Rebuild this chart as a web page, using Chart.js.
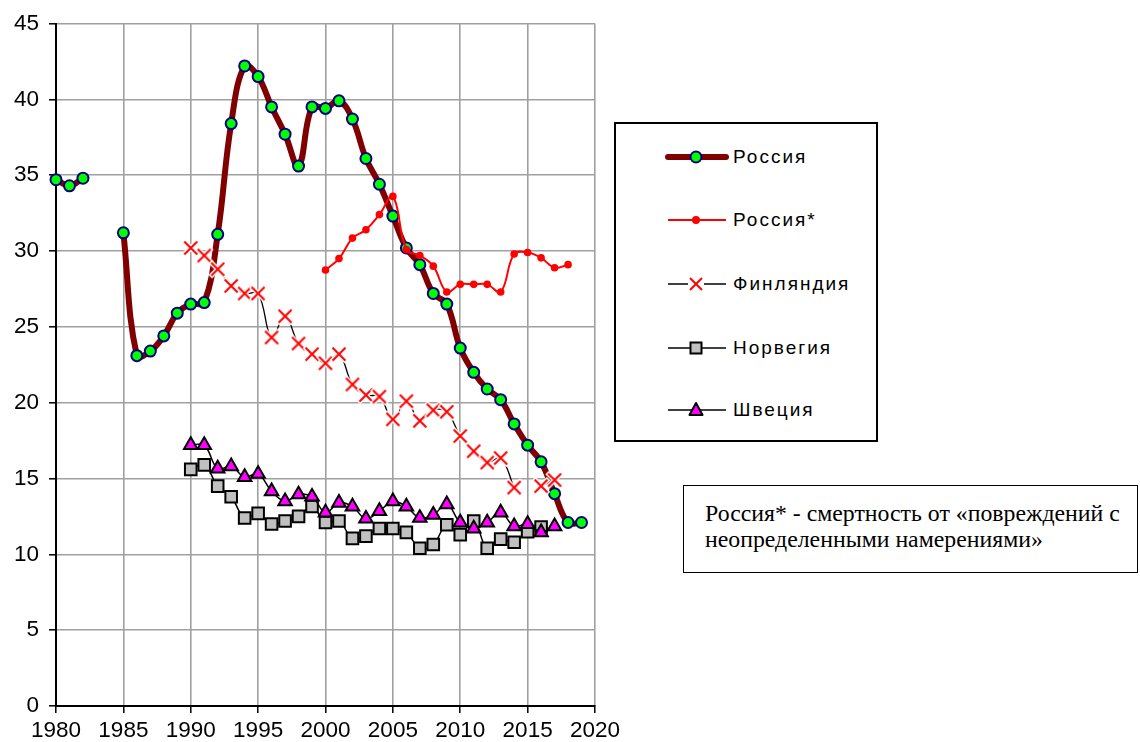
<!DOCTYPE html>
<html><head><meta charset="utf-8">
<script src="https://cdn.jsdelivr.net/npm/chart.js@4.4.1/dist/chart.umd.min.js"></script>
<style>
html,body{margin:0;padding:0;background:#fff;width:1140px;height:742px;overflow:hidden;}
#wrap{position:relative;width:1140px;height:742px;}
#c{position:absolute;left:0;top:0;}
#legend{position:absolute;left:614px;top:122px;width:264px;height:320px;border:2px solid #000;box-sizing:border-box;background:#fff;}
.item{position:absolute;left:49px;height:30px;display:flex;align-items:center;font-family:"Liberation Sans",Arial,sans-serif;font-size:19px;letter-spacing:2px;color:#000;white-space:nowrap;}
.item svg{margin-right:4px;display:block;}
#note{position:absolute;left:683px;top:485px;width:455px;height:88px;border:1.5px solid #000;box-sizing:border-box;background:#fff;font-family:"Liberation Serif","Times New Roman",serif;font-size:23.8px;line-height:26px;padding:14px 0 0 21px;color:#000;white-space:nowrap;}
</style>
</head><body>
<div id="wrap">
<canvas id="c" width="1140" height="742"></canvas>
<div id="legend">
  <div class="item" style="top:18px"><svg width="64" height="20"><line x1="3" y1="10" x2="61" y2="10" stroke="#800000" stroke-width="6" stroke-linecap="round"/><circle cx="31" cy="10" r="5.5" fill="#00ff00" stroke="#000080" stroke-width="2"/></svg>Россия</div>
  <div class="item" style="top:81px"><svg width="64" height="20"><line x1="3" y1="10" x2="61" y2="10" stroke="#ff0000" stroke-width="2"/><circle cx="31" cy="10" r="4" fill="#ff0000"/></svg>Россия*</div>
  <div class="item" style="top:145px"><svg width="64" height="20"><line x1="3" y1="10" x2="23" y2="10" stroke="#000" stroke-width="1.5"/><line x1="39" y1="10" x2="61" y2="10" stroke="#000" stroke-width="1.5"/><line x1="25" y1="4" x2="37" y2="16" stroke="#ff0000" stroke-width="2"/><line x1="37" y1="4" x2="25" y2="16" stroke="#ff0000" stroke-width="2"/></svg>Финляндия</div>
  <div class="item" style="top:209px"><svg width="64" height="20"><line x1="3" y1="10" x2="61" y2="10" stroke="#000" stroke-width="1.5"/><rect x="25.5" y="4.5" width="11" height="11" fill="#c0c0c0" stroke="#000" stroke-width="2"/></svg>Норвегия</div>
  <div class="item" style="top:271px"><svg width="64" height="20"><line x1="3" y1="10" x2="61" y2="10" stroke="#000" stroke-width="1.5"/><polygon points="31,3 37.5,15 24.5,15" fill="#ff00ff" stroke="#000" stroke-width="2" stroke-linejoin="round"/></svg>Швеция</div>
</div>
<div id="note">Россия* - смертность от «повреждений с<br>неопределенными намерениями»</div>
</div>
<script>
// ---- data ----
const yearsRussia = [1980,1981,1982,1983,1984,1985,1986,1987,1988,1989,1990,1991,1992,1993,1994,1995,1996,1997,1998,1999,2000,2001,2002,2003,2004,2005,2006,2007,2008,2009,2010,2011,2012,2013,2014,2015,2016,2017,2018,2019];
const russia = [34.7,34.3,34.8,null,null,31.2,23.1,23.4,24.4,25.9,26.5,26.6,31.1,38.4,42.2,41.5,39.5,37.7,35.6,39.5,39.4,39.9,38.7,36.1,34.4,32.3,30.2,29.1,27.2,26.5,23.6,22.0,20.9,20.2,18.6,17.2,16.1,14.0,12.1,12.1];
const yearsRussiaStar = [2000,2001,2002,2003,2004,2005,2006,2007,2008,2009,2010,2011,2012,2013,2014,2015,2016,2017,2018];
const russiaStar = [28.75,29.5,30.85,31.4,32.4,33.6,30.1,29.7,29.0,27.3,27.8,27.8,27.8,27.3,29.8,29.9,29.55,28.9,29.1];
const yearsFinland = [1990,1991,1992,1993,1994,1995,1996,1997,1998,1999,2000,2001,2002,2003,2004,2005,2006,2007,2008,2009,2010,2011,2012,2013,2014,2015,2016,2017];
const finland = [30.2,29.7,28.8,27.7,27.2,27.2,24.3,25.7,23.9,23.2,22.6,23.2,21.2,20.5,20.4,18.9,20.1,18.8,19.5,19.4,17.8,16.8,16.05,16.35,14.4,null,14.5,14.9];
const yearsNorway = [1990,1991,1992,1993,1994,1995,1996,1997,1998,1999,2000,2001,2002,2003,2004,2005,2006,2007,2008,2009,2010,2011,2012,2013,2014,2015,2016];
const norway = [15.6,15.9,14.5,13.8,12.4,12.7,12.0,12.2,12.5,13.15,12.1,12.2,11.05,11.2,11.7,11.7,11.45,10.4,10.65,11.95,11.3,12.2,10.4,11.0,10.8,11.5,11.8];
const yearsSweden = [1990,1991,1992,1993,1994,1995,1996,1997,1998,1999,2000,2001,2002,2003,2004,2005,2006,2007,2008,2009,2010,2011,2012,2013,2014,2015,2016,2017];
const sweden = [17.2,17.2,15.65,15.8,15.1,15.3,14.15,13.5,13.95,13.8,12.75,13.4,13.15,12.35,12.85,13.5,13.15,12.4,12.6,13.3,12.1,11.7,12.1,12.75,11.85,12.0,11.45,11.85];
const xTickValues = [1980,1985,1990,1995,2000,2005,2010,2015,2020];
const xTickLabels = ['1980','1985','1990','1995','2000','2005','2010','2015','2020'];
const yTickValues = [0,5,10,15,20,25,30,35,40,45];
const yTickLabels = ['0','5','10','15','20','25','30','35','40','45'];

const pts = (xs, ys) => xs.map((x, i) => ({x: x, y: ys[i]}));

function makeX() {
  const c = document.createElement('canvas');
  c.width = 20; c.height = 20;
  const g = c.getContext('2d');
  g.lineCap = 'butt';
  g.strokeStyle = '#fff'; g.lineWidth = 5;
  g.beginPath(); g.moveTo(2.5,2.5); g.lineTo(17.5,17.5); g.moveTo(17.5,2.5); g.lineTo(2.5,17.5); g.stroke();
  g.strokeStyle = '#ff0000'; g.lineWidth = 2;
  g.beginPath(); g.moveTo(3.5,3.5); g.lineTo(16.5,16.5); g.moveTo(16.5,3.5); g.lineTo(3.5,16.5); g.stroke();
  return c;
}

const tickFont = {family: '"Liberation Sans", Arial, sans-serif', size: 22.5};

new Chart(document.getElementById('c'), {
  type: 'line',
  data: {
    datasets: [
      {label: 'Россия', data: pts(yearsRussia, russia), order: 5, clip: false,
       borderColor: '#800000', borderWidth: 6, tension: 0.4, spanGaps: false,
       pointStyle: 'circle', pointRadius: 5.5, pointBackgroundColor: '#00ff00', pointBorderColor: '#000080', pointBorderWidth: 2},
      {label: 'Россия*', data: pts(yearsRussiaStar, russiaStar), order: 4, clip: false,
       borderColor: '#ff0000', borderWidth: 2, tension: 0.4,
       pointStyle: 'circle', pointRadius: 3.8, pointBackgroundColor: '#ff0000', pointBorderColor: '#ff0000', pointBorderWidth: 0},
      {label: 'Финляндия', data: pts(yearsFinland, finland), order: 3, clip: false,
       borderColor: '#000', borderWidth: 1.3, tension: 0.4, spanGaps: false,
       pointStyle: makeX(), pointRadius: 7},
      {label: 'Норвегия', data: pts(yearsNorway, norway), order: 2, clip: false,
       borderColor: '#000', borderWidth: 1.5, tension: 0.4,
       pointStyle: 'rect', pointRadius: 8.2, pointBackgroundColor: '#c0c0c0', pointBorderColor: '#000', pointBorderWidth: 2},
      {label: 'Швеция', data: pts(yearsSweden, sweden), order: 1, clip: false,
       borderColor: '#000', borderWidth: 1.5, tension: 0.4,
       pointStyle: 'triangle', pointRadius: 7.8, pointBackgroundColor: '#ff00ff', pointBorderColor: '#000', pointBorderWidth: 2}
    ]
  },
  options: {
    responsive: false, animation: false, devicePixelRatio: 1,
    layout: {padding: {left: 0, right: 545, top: 23, bottom: 0}},
    plugins: {legend: {display: false}, tooltip: {enabled: false}},
    scales: {
      x: {type: 'linear', min: 1980, max: 2020,
          afterBuildTicks: a => { a.ticks = xTickValues.map(v => ({value: v})); },
          ticks: {callback: (v, i) => xTickLabels[i], font: tickFont, color: '#000', padding: 4, maxRotation: 0, autoSkip: false},
          grid: {color: '#a0a0a0', lineWidth: 1.6, tickColor: '#000', tickLength: 7, tickWidth: 1.5},
          border: {color: '#000', width: 2},
          afterFit: s => { s.height = 36; }},
      y: {type: 'linear', min: 0, max: 45,
          afterBuildTicks: a => { a.ticks = yTickValues.map(v => ({value: v})); },
          ticks: {callback: (v, i) => yTickLabels[i], font: tickFont, color: '#000', padding: 10, autoSkip: false},
          grid: {color: '#a0a0a0', lineWidth: 1.6, tickColor: '#000', tickLength: 7, tickWidth: 1.5},
          border: {color: '#000', width: 2},
          afterFit: s => { s.width = 56; }}
    }
  }
});
</script>
</body></html>
